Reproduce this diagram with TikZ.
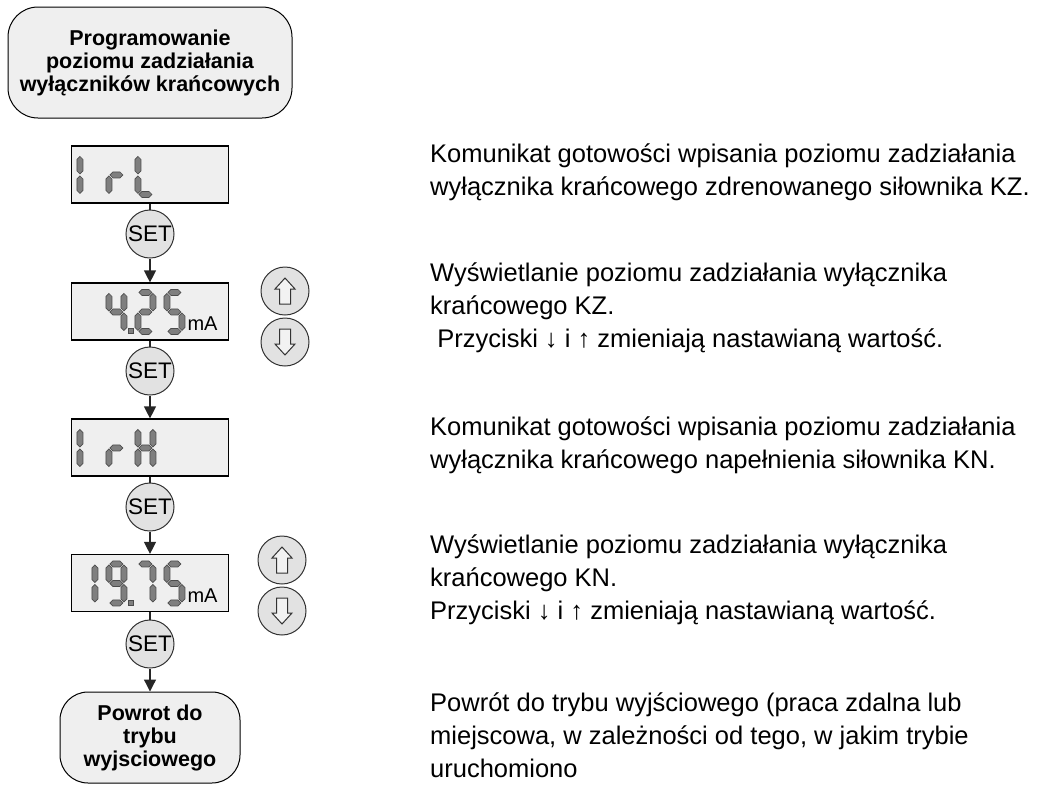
\documentclass[tikz,border=0pt]{standalone}
\usepackage{fontspec}
\setmainfont{Liberation Sans}
\usetikzlibrary{arrows.meta}

\definecolor{panelgray}{HTML}{EFEFEF}
\definecolor{keygray}{HTML}{E2E2E2}
\definecolor{seggray}{HTML}{7F7F7F}

\tikzset{
  flowbox/.style={draw=black, fill=panelgray, line width=1pt, rounded corners=30pt, align=center, inner sep=0pt, font=\fontsize{21.5}{23}\selectfont\bfseries},
  lcd/.style={draw=black, fill=panelgray, line width=1.2pt, minimum width=157pt, minimum height=57pt, inner sep=0pt},
  setkey/.style={circle, draw=black!80, fill=keygray, line width=1pt, minimum size=48pt, inner sep=0pt, font=\fontsize{22.5}{22.5}\selectfont},
  arrowkey/.style={circle, draw=black!80, fill=keygray, line width=1pt, minimum size=48pt, inner sep=0pt},
  keyglyph/.style={draw=black!80, fill=white!95!black, line width=1pt},
  lcdseg/.style={draw=black!70, fill=seggray, line width=0.7pt},
  flow/.style={draw=black!85, line width=1.3pt},
  flowarrow/.style={flow, -{Triangle[length=12pt,width=12pt]}},
  opis/.style={anchor=west, align=left, inner sep=0pt, font=\fontsize{25.5}{33}\selectfont}
}

\newcommand{\hseg}[3]{\filldraw[lcdseg] (#1,#3) -- (#1+3,#3-3) -- (#2-3,#3-3) -- (#2,#3) -- (#2-3,#3+3) -- (#1+3,#3+3) -- cycle;}
\newcommand{\vseg}[3]{\filldraw[lcdseg] (#1,#2) -- (#1+3,#2+3) -- (#1+3,#3-3) -- (#1,#3) -- (#1-3,#3-3) -- (#1-3,#2+3) -- cycle;}
\newcommand{\lcda}{\hseg{4}{17}{3}}
\newcommand{\lcdb}{\vseg{18}{4}{21.5}}
\newcommand{\lcdc}{\vseg{18}{23.5}{41}}
\newcommand{\lcdd}{\hseg{4}{17}{42}}
\newcommand{\lcde}{\vseg{3}{23.5}{41}}
\newcommand{\lcdf}{\vseg{3}{4}{21.5}}
\newcommand{\lcdg}{\hseg{4}{17}{22.5}}
\newcommand{\lcddigit}[3]{\begin{scope}[shift={(#1.north west)}, shift={(#2,7)}]
  \foreach \s in {#3} {\csname lcd\s\endcsname}
\end{scope}}
\newcommand{\lcdpoint}[2]{\filldraw[lcdseg] ([shift={(#2,46)}]#1.north west) rectangle ++(5,5);}
\newcommand{\keyup}[1]{\filldraw[keyglyph] ([shift={(0,-13)}]#1.center) -- ++(10,11) -- ++(-4.5,0) -- ++(0,15) -- ++(-11,0) -- ++(0,-15) -- ++(-4.5,0) -- cycle;}
\newcommand{\keydown}[1]{\filldraw[keyglyph] ([shift={(0,13)}]#1.center) -- ++(10,-11) -- ++(-4.5,0) -- ++(0,-15) -- ++(-11,0) -- ++(0,15) -- ++(-4.5,0) -- cycle;}

\begin{document}
\begin{tikzpicture}[x=1pt, y=-1pt]
        \useasboundingbox (0,0) rectangle (1042,785);

        \node[flowbox, minimum width=284pt, minimum height=111pt] (start) at (150,62.5) {Programowanie\\poziomu zadziałania\\wyłączników krańcowych};

        \node[lcd] (d1) at (150,174.5) {};
        \node[lcd] (d2) at (150,311.5) {};
        \node[lcd] (d3) at (150,447.5) {};
        \node[lcd] (d4) at (150,583) {};

        \node[setkey] (set1) at (150,234) {SET};
        \node[setkey] (set2) at (150,371) {SET};
        \node[setkey] (set3) at (150,507) {SET};
        \node[setkey] (set4) at (150,644) {SET};

        \node[flowbox, rounded corners=28pt, minimum width=180pt, minimum height=91pt] (end) at (150,737.5) {Powrot do\\trybu\\wyjsciowego};

        % I r L
        \lcddigit{d1}{6}{e,f}
        \lcddigit{d1}{35}{e,g}
        \lcddigit{d1}{64}{d,e,f}

        % 4.25 mA
        \lcddigit{d2}{35}{b,c,f,g}
        \lcdpoint{d2}{57}
        \lcddigit{d2}{64}{a,b,d,e,g}
        \lcddigit{d2}{93}{a,c,d,f,g}
        \node[anchor=base east, xshift=-8pt, yshift=10pt, font=\fontsize{20}{20}\selectfont] (ma2) at (d2.south east) {mA};

        % I r H
        \lcddigit{d3}{6}{e,f}
        \lcddigit{d3}{35}{e,g}
        \lcddigit{d3}{64}{b,c,e,f,g}

        % 19.75 mA
        \lcddigit{d4}{6}{b,c}
        \lcddigit{d4}{35}{a,b,c,d,f,g}
        \lcdpoint{d4}{57}
        \lcddigit{d4}{64}{a,b,c}
        \lcddigit{d4}{93}{a,c,d,f,g}
        \node[anchor=base east, xshift=-8pt, yshift=10pt, font=\fontsize{20}{20}\selectfont] (ma4) at (d4.south east) {mA};

        \draw[flow] (d1) -- (set1);
        \draw[flowarrow] (set1) -- (d2);
        \draw[flow] (d2) -- (set2);
        \draw[flowarrow] (set2) -- (d3);
        \draw[flow] (d3) -- (set3);
        \draw[flowarrow] (set3) -- (d4);
        \draw[flow] (d4) -- (set4);
        \draw[flowarrow] (set4) -- (end);

        \node[arrowkey] (up2) at (285,291) {};
        \node[arrowkey] (down2) at (285,342) {};
        \node[arrowkey] (up4) at (282,560) {};
        \node[arrowkey] (down4) at (282,611) {};
        \keyup{up2}
        \keydown{down2}
        \keyup{up4}
        \keydown{down4}

        \node[opis] (n1) at (430,172) {Komunikat gotowości wpisania poziomu zadziałania\\wyłącznika krańcowego zdrenowanego siłownika KZ.};
        \node[opis] (n2) at (430,308) {Wyświetlanie poziomu zadziałania wyłącznika\\krańcowego KZ.\\\hspace*{0.28em}Przyciski ↓ i ↑ zmieniają nastawianą wartość.};
        \node[opis] (n3) at (430,445) {Komunikat gotowości wpisania poziomu zadziałania\\wyłącznika krańcowego napełnienia siłownika KN.};
        \node[opis] (n4) at (430,580) {Wyświetlanie poziomu zadziałania wyłącznika\\krańcowego KN.\\Przyciski ↓ i ↑ zmieniają nastawianą wartość.};
        \node[opis] (n5) at (430,735) {Powrót do trybu wyjściowego (praca zdalna lub\\miejscowa, w zależności od tego, w jakim trybie\\uruchomiono};

\end{tikzpicture}
\end{document}
